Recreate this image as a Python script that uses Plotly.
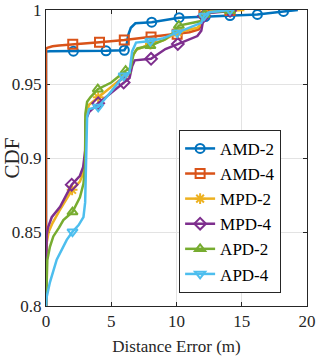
import plotly.graph_objects as go

# ---------------- data ----------------
amd2_x = [0, 0, 0.3, 2.1, 4.6, 6.0, 6.15, 6.3, 6.5, 6.85, 8.1, 10.2, 12.2, 14.1, 16.2, 18.2, 19.3]
amd2_y = [0.8, 0.972, 0.9722, 0.9722, 0.9724, 0.9728, 0.975, 0.983, 0.988, 0.991, 0.9918, 0.9948, 0.9956, 0.9962, 0.997, 0.999, 1.0]
amd2_m = [3, 4, 5, 10, 11, 12, 13, 14, 15]

amd4_x = [0, 0, 0.1, 0.5, 1.0, 2.05, 4.1, 6.0, 8.05, 10.05, 11.0, 11.7, 11.95, 12.1, 13.0, 14.1, 14.3]
amd4_y = [0.8, 0.9735, 0.9745, 0.9755, 0.976, 0.9769, 0.9782, 0.9797, 0.9818, 0.9836, 0.985, 0.9869, 0.991, 0.9991, 0.9994, 0.9996, 0.9996]
amd4_m = [5, 6, 7, 8, 9, 13, 15]

mpd2_x = [0, 0.01, 0.06, 0.2, 0.5, 1.0, 1.5, 2.0, 2.6, 2.9, 3.0, 3.03, 3.3, 4.0, 5.0, 6.0, 6.4, 6.6, 6.9, 8.0, 9.0, 10.1, 11.6, 11.95, 12.1, 12.6, 14.1, 15.2]
mpd2_y = [0.8, 0.83, 0.843, 0.85, 0.856, 0.864, 0.871, 0.8785, 0.884, 0.891, 0.90, 0.928, 0.936, 0.941, 0.948, 0.955, 0.958, 0.968, 0.973, 0.977, 0.9795, 0.985, 0.988, 0.991, 0.997, 0.999, 0.9995, 1.0]
mpd2_m = [7, 13, 15, 19, 21, 24, 26]

mpd4_x = [0, 0.01, 0.05, 0.15, 0.44, 1.08, 1.7, 1.97, 2.6, 2.85, 3.0, 3.02, 3.3, 4.0, 5.0, 5.95, 6.4, 6.6, 6.8, 8.05, 9.15, 10.1, 11.6, 11.9, 12.1, 12.5, 14.1, 14.3]
mpd4_y = [0.8, 0.835, 0.848, 0.853, 0.86, 0.867, 0.877, 0.882, 0.888, 0.894, 0.905, 0.925, 0.931, 0.937, 0.944, 0.951, 0.954, 0.962, 0.966, 0.967, 0.9736, 0.977, 0.9824, 0.986, 0.996, 0.998, 0.9995, 0.9995]
mpd4_m = [7, 13, 15, 19, 21, 24, 26]

apd2_x = [0, 0.03, 0.1, 0.3, 0.56, 1.0, 1.33, 2.03, 2.6, 2.87, 3.0, 3.02, 3.15, 3.4, 3.97, 5.0, 6.1, 6.5, 6.7, 7.0, 8.0, 9.15, 9.8, 10.18, 11.0, 11.9, 12.15, 12.5, 14.1, 14.3]
apd2_y = [0.8, 0.815, 0.831, 0.84, 0.847, 0.853, 0.858, 0.8635, 0.8735, 0.8825, 0.895, 0.93, 0.938, 0.941, 0.9465, 0.951, 0.959, 0.961, 0.97, 0.974, 0.9758, 0.9802, 0.985, 0.9895, 0.991, 0.9925, 0.997, 0.9985, 0.9995, 0.9995]
apd2_m = [7, 14, 16, 20, 23, 26, 28]

apd4_x = [0, 0.05, 0.3, 0.82, 1.59, 2.03, 2.5, 2.87, 3.0, 3.1, 3.15, 3.3, 4.0, 5.0, 5.95, 6.4, 6.6, 6.9, 8.0, 9.0, 10.05, 11.9, 12.1, 12.5, 14.1, 14.3]
apd4_y = [0.8, 0.806, 0.816, 0.8313, 0.8447, 0.8502, 0.8547, 0.86, 0.87, 0.9, 0.928, 0.933, 0.9345, 0.945, 0.9555, 0.958, 0.972, 0.978, 0.979, 0.981, 0.9847, 0.9913, 0.996, 0.9985, 1.0, 1.0]
apd4_m = [5, 12, 14, 18, 20, 22, 24]

names = ["AMD-2", "AMD-4", "MPD-2", "MPD-4", "APD-2", "APD-4"]
x_ticks = [0, 5, 10, 15, 20]
y_ticks = [0.8, 0.85, 0.9, 0.95, 1.0]
y_tick_text = ["0.8", "0.85", "0.9", "0.95", "1"]

# ---------------- styling ----------------
colors = ["#0072BD", "#D95319", "#EDB120", "#7E2F8E", "#77AC30", "#4DBEEE"]
symbols = ["circle-open", "square-open", "asterisk-open", "diamond-open",
           "triangle-up-open", "triangle-down-open"]
FONT = "Liberation Serif"

series = [
    (amd2_x, amd2_y, amd2_m),
    (amd4_x, amd4_y, amd4_m),
    (mpd2_x, mpd2_y, mpd2_m),
    (mpd4_x, mpd4_y, mpd4_m),
    (apd2_x, apd2_y, apd2_m),
    (apd4_x, apd4_y, apd4_m),
]

fig = go.Figure()
for (xs, ys, mi), name, c, s in zip(series, names, colors, symbols):
    fig.add_trace(go.Scatter(x=xs, y=ys, mode="lines", line=dict(color=c, width=2.5),
                             showlegend=False, hoverinfo="skip"))
    fig.add_trace(go.Scatter(x=[xs[i] for i in mi], y=[ys[i] for i in mi], mode="markers",
                             marker=dict(symbol=s, size=9, color=c, line=dict(color=c, width=2)),
                             showlegend=False, hoverinfo="skip"))
    fig.add_trace(go.Scatter(x=[None], y=[None], mode="lines+markers", name=name,
                             line=dict(color=c, width=2.5),
                             marker=dict(symbol=s, size=9, color=c, line=dict(color=c, width=2))))

axis_common = dict(
    showline=True, linecolor="#262626", linewidth=1, mirror="ticks",
    ticks="inside", ticklen=4, tickcolor="#262626",
    showgrid=True, gridcolor="#e3e3e3", gridwidth=1, zeroline=False,
    tickfont=dict(family=FONT, size=17, color="#262626"),
    layer="below traces", ticklabeloverflow="allow",
)

fig.update_xaxes(range=[0, 20], tickvals=x_ticks, **axis_common,
                 title=dict(text="Distance Error (m)", font=dict(family=FONT, size=17, color="#262626"),
                            standoff=9))
fig.update_yaxes(range=[0.8, 1.0], tickvals=y_ticks, ticktext=y_tick_text, **axis_common,
                 title=dict(text="CDF", font=dict(family=FONT, size=21, color="#262626"),
                            standoff=3))

fig.update_layout(
    width=316, height=363,
    margin=dict(l=46, r=9, t=10, b=57, autoexpand=False),
    paper_bgcolor="white", plot_bgcolor="white",
    legend=dict(x=0.51, y=0.595, xanchor="left", yanchor="top",
                bgcolor="white", bordercolor="#262626", borderwidth=1,
                font=dict(family=FONT, size=17, color="#000000"),
                itemwidth=30, tracegroupgap=0),
    font=dict(family=FONT),
)

fig.write_html("out.html", config={"displayModeBar": False},
               post_script="document.body.style.margin='0';")
